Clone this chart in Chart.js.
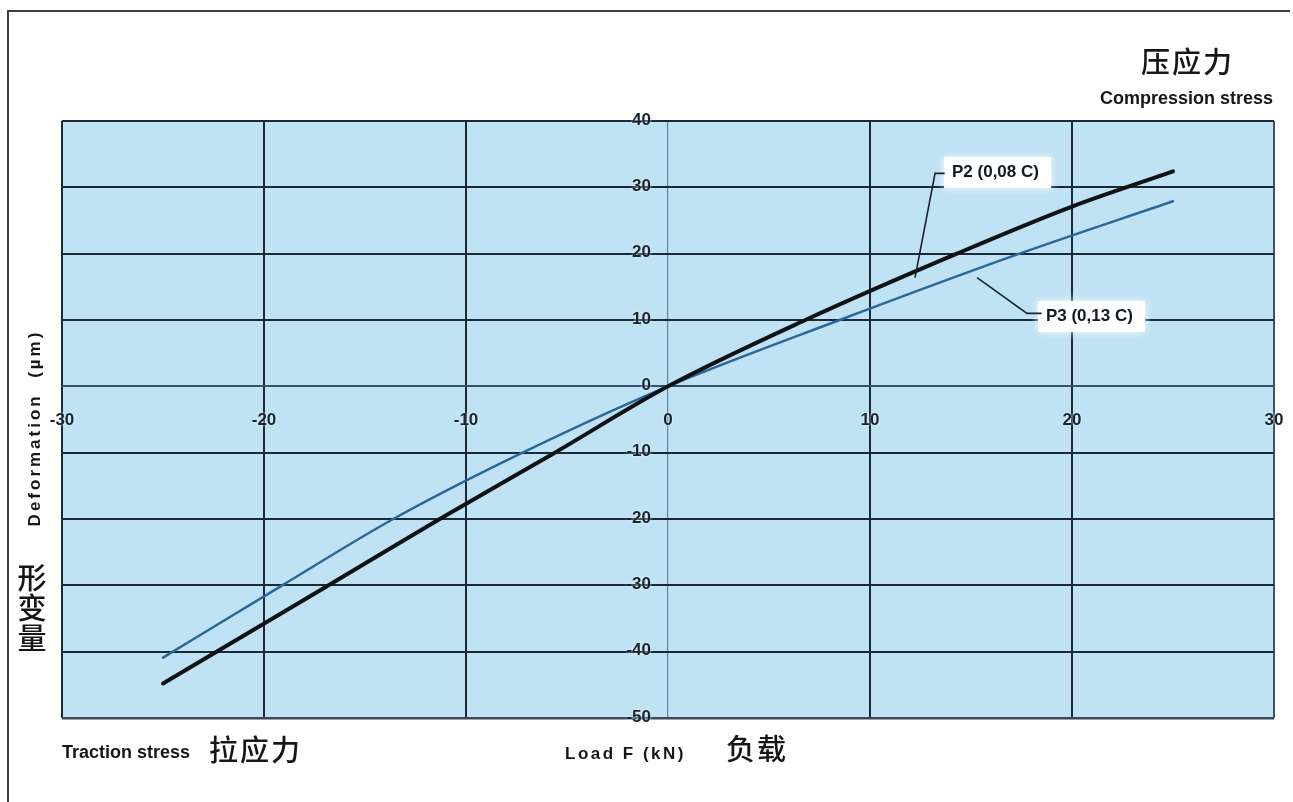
<!DOCTYPE html>
<html>
<head>
<meta charset="utf-8">
<script src="https://cdn.jsdelivr.net/npm/chart.js@4.4.0/dist/chart.umd.min.js"></script>
<style>
  html, body { margin: 0; padding: 0; background: #ffffff; }
  canvas { display: block; }
</style>
</head>
<body>
<canvas id="chart" width="1293" height="802"></canvas>
<script>
// Axis ticks
const xTicks = [-30, -20, -10, 0, 10, 20, 30];
const yTicks = [40, 30, 20, 10, 0, -10, -20, -30, -40, -50];

// P2 (0,08 C): load F (kN) vs deformation (µm)
const p2Load   = [-25, -16.8, -11.3, -5.6, 0, 6.8, 14.3, 20, 25];
const p2Deform = [-44.8, -30, -20, -10, 0, 10, 20, 27.1, 32.4];

// P3 (0,13 C)
const p3Load   = [-25, -19.1, -13.6, -7.2, 0, 8.5, 17.4, 25];
const p3Deform = [-40.9, -30, -20, -10, 0, 10, 20, 27.9];

const seriesNames = ['P2 (0,08 C)', 'P3 (0,13 C)'];

// Callout anchors in data units: leader from curve -> bend -> end, then label
const callouts = [
  { text: seriesNames[0], leader: [[12.23, 16.4], [13.22, 32.1], [13.7, 32.1]], at: [14.06, 32.3] },
  { text: seriesNames[1], leader: [[15.3, 16.4], [17.77, 11.0], [18.5, 11.0]], at: [18.71, 10.6] }
];

const toPoints = (xs, ys) => xs.map((x, i) => ({ x: x, y: ys[i] }));

const INK = '#1a2430';
const GRID = '#1b2836';
const LATIN = '"Liberation Sans", Arial, sans-serif';
const CJK = '"Noto Sans CJK SC", "Noto Sans", sans-serif';

const decor = {
  id: 'decor',
  beforeDraw(chart) {
    const { ctx, chartArea: a } = chart;
    ctx.save();
    ctx.fillStyle = '#ffffff';
    ctx.fillRect(0, 0, chart.width, chart.height);
    ctx.fillStyle = 'rgb(191,226,244)';
    ctx.fillRect(a.left, a.top, a.right - a.left, a.bottom - a.top);
    // outer frame
    ctx.strokeStyle = '#3e3e3e';
    ctx.lineWidth = 2;
    ctx.beginPath();
    ctx.moveTo(8, 802);
    ctx.lineTo(8, 11);
    ctx.lineTo(1290, 11);
    ctx.stroke();
    ctx.restore();
  },
  afterDatasetsDraw(chart) {
    const { ctx, scales: { x, y } } = chart;
    ctx.save();
    // tick labels along the centred axes
    ctx.font = 'bold 17px ' + LATIN;
    ctx.fillStyle = INK;
    ctx.shadowColor = 'rgba(235,248,255,0.9)';
    ctx.shadowBlur = 3;
    const x0 = x.getPixelForValue(0);
    const y0 = y.getPixelForValue(0);
    ctx.textAlign = 'right';
    ctx.textBaseline = 'middle';
    yTicks.forEach(v => ctx.fillText(String(v), x0 - 17, y.getPixelForValue(v) - 1));
    ctx.textAlign = 'center';
    xTicks.forEach(v => ctx.fillText(String(v), x.getPixelForValue(v), y0 + 34));
    ctx.shadowBlur = 0;

    // callouts
    callouts.forEach(c => {
      const pts = c.leader.map(p => [x.getPixelForValue(p[0]), y.getPixelForValue(p[1])]);
      const tx = x.getPixelForValue(c.at[0]);
      const ty = y.getPixelForValue(c.at[1]);
      ctx.font = 'bold 17px ' + LATIN;
      const w = ctx.measureText(c.text).width;
      ctx.save();
      ctx.fillStyle = 'rgba(255,255,255,0.96)';
      ctx.shadowColor = 'rgba(255,255,255,0.95)';
      ctx.shadowBlur = 8;
      ctx.fillRect(tx - 8, ty - 15, w + 20, 31);
      ctx.restore();
      ctx.strokeStyle = INK;
      ctx.lineWidth = 1.6;
      ctx.beginPath();
      ctx.moveTo(pts[0][0], pts[0][1]);
      for (let i = 1; i < pts.length; i++) ctx.lineTo(pts[i][0], pts[i][1]);
      ctx.stroke();
      ctx.fillStyle = '#111820';
      ctx.textAlign = 'left';
      ctx.textBaseline = 'middle';
      ctx.fillText(c.text, tx, ty);
    });
    ctx.restore();
  },
  afterDraw(chart) {
    const { ctx } = chart;
    ctx.save();
    ctx.fillStyle = '#161616';
    // top-right: compression side
    ctx.font = '500 29px ' + CJK;
    ctx.letterSpacing = '2px';
    ctx.textAlign = 'left';
    ctx.textBaseline = 'middle';
    ctx.fillText('压应力', 1141, 62);
    ctx.letterSpacing = '0px';
    ctx.font = 'bold 18px ' + LATIN;
    ctx.textBaseline = 'alphabetic';
    ctx.fillText('Compression stress', 1100, 104);

    // bottom: traction side and load axis
    ctx.fillText('Traction stress', 62, 758);
    ctx.font = '500 29px ' + CJK;
    ctx.letterSpacing = '2px';
    ctx.textBaseline = 'middle';
    ctx.fillText('拉应力', 209, 750);
    ctx.fillText('负载', 726, 749);
    ctx.font = 'bold 17px ' + LATIN;
    ctx.letterSpacing = '2.5px';
    ctx.textBaseline = 'alphabetic';
    ctx.fillText('Load F (kN)', 565, 759);

    // vertical axis title
    ctx.save();
    ctx.translate(40, 428);
    ctx.rotate(-Math.PI / 2);
    ctx.textAlign = 'center';
    ctx.letterSpacing = '3px';
    ctx.fillText('Deformation  (µm)', 0, 0);
    ctx.restore();

    ctx.font = '500 29px ' + CJK;
    ctx.letterSpacing = '0px';
    ctx.textAlign = 'center';
    ctx.textBaseline = 'middle';
    ['形', '变', '量'].forEach((ch, i) => ctx.fillText(ch, 32, 578 + i * 30));
    ctx.restore();
  }
};

new Chart(document.getElementById('chart'), {
  type: 'line',
  data: {
    datasets: [
      {
        label: seriesNames[0],
        data: toPoints(p2Load, p2Deform),
        borderColor: '#101214',
        borderWidth: 4,
        borderCapStyle: 'round',
        borderJoinStyle: 'round',
        pointRadius: 0,
        cubicInterpolationMode: 'monotone',
        order: 0
      },
      {
        label: seriesNames[1],
        data: toPoints(p3Load, p3Deform),
        borderColor: '#2b6899',
        borderWidth: 2.5,
        borderCapStyle: 'round',
        borderJoinStyle: 'round',
        pointRadius: 0,
        cubicInterpolationMode: 'monotone',
        order: 1
      }
    ]
  },
  options: {
    responsive: false,
    animation: false,
    devicePixelRatio: 1,
    layout: { padding: { left: 62, top: 121, right: 19, bottom: 84 } },
    plugins: { legend: { display: false }, tooltip: { enabled: false } },
    scales: {
      x: {
        type: 'linear',
        min: -30,
        max: 30,
        afterBuildTicks: s => { s.ticks = xTicks.map(v => ({ value: v })); },
        ticks: { display: false },
        border: { display: false },
        grid: {
          drawTicks: false,
          color: c => c.tick.value === 0 ? '#5f84a4' : (c.tick.value === 30 ? '#46525e' : GRID),
          lineWidth: c => c.tick.value === 0 ? 1.2 : 2
        }
      },
      y: {
        type: 'linear',
        min: -50,
        max: 40,
        afterBuildTicks: s => { s.ticks = yTicks.map(v => ({ value: v })); },
        ticks: { display: false },
        border: { display: false },
        grid: {
          drawTicks: false,
          color: c => c.tick.value === -50 ? '#3c4854' : (c.tick.value === 0 ? '#34506a' : GRID),
          lineWidth: c => c.tick.value === -50 ? 2.5 : 2
        }
      }
    }
  },
  plugins: [decor]
});
</script>
</body>
</html>
